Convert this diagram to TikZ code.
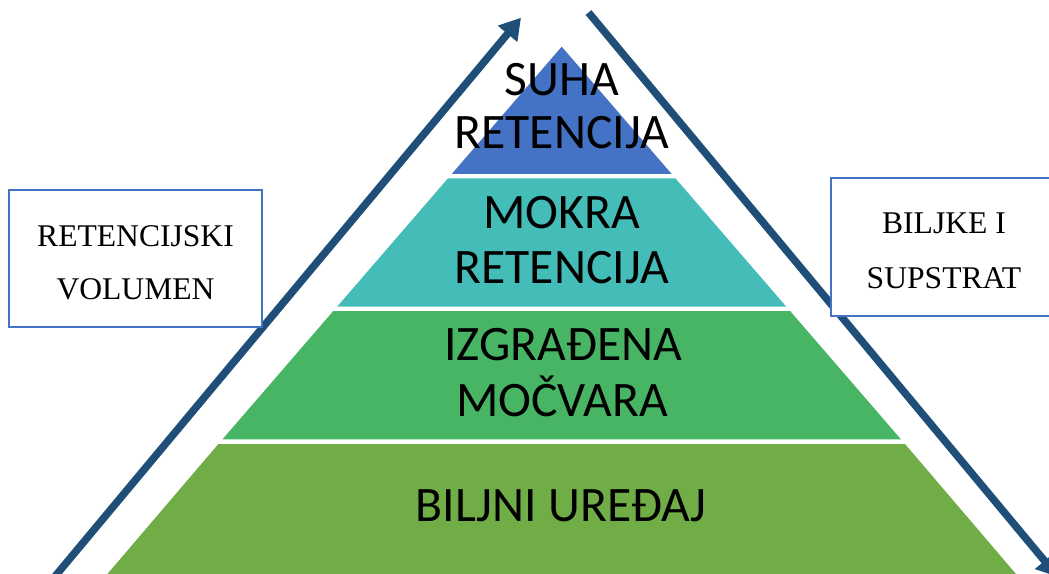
\documentclass[tikz,border=0pt]{standalone}
\usepackage{fontspec}
\setmainfont{Liberation Serif}
\newfontfamily\pyrfont{Carlito}
\usetikzlibrary{arrows.meta}
\definecolor{arrowblue}{HTML}{1F4E79}
\definecolor{boxblue}{HTML}{4472C4}
\definecolor{layerA}{HTML}{4472C4}
\definecolor{layerB}{HTML}{44BDB9}
\definecolor{layerC}{HTML}{47B564}
\definecolor{layerD}{HTML}{70AD47}
\begin{document}
\begin{tikzpicture}[x=1pt,y=-1pt,
  layertext/.style={font=\pyrfont\fontsize{49.6}{55}\selectfont, anchor=base, inner sep=0pt, text=black},
  boxtext/.style={font=\fontsize{31.6}{36}\selectfont, anchor=base, inner sep=0pt, text=black},
  labelbox/.style={draw=boxblue, line width=2pt, fill=white, outer sep=0pt, inner sep=0pt, anchor=north west},
  flow/.style={draw=arrowblue, line width=7.5pt, line cap=butt, -{Triangle[length=21pt,width=24pt]}}]
\useasboundingbox (0,0) rectangle (1049,573);
\clip (0,0) rectangle (1049,573);
\fill[white] (0,0) rectangle (1049,573);

% pyramid layers
\fill[layerA] (561.7,46.7) -- (671.5,173.8) -- (451.9,173.8) -- cycle;
\fill[layerB] (448.0,178.3) -- (675.4,178.3) -- (786.3,306.7) -- (337.1,306.7) -- cycle;
\fill[layerC] (333.3,311.0) -- (790.1,311.0) -- (900.9,439.3) -- (222.5,439.3) -- cycle;
\fill[layerD] (218.4,444.0) -- (905.0,444.0) -- (1016.0,574) -- (107.4,574) -- cycle;

% arrows
\coordinate (Ls) at (49.5,583);
\coordinate (Lt) at (521,17.7);
\coordinate (Rs) at (588.5,12.5);
\coordinate (Rt) at (1058,577);
\draw[flow] (Ls) -- (Lt);
\draw[flow] (Rs) -- (Rt);

% side boxes
\node[labelbox, minimum width=252.4pt, minimum height=137.3pt] (lbox) at (9.3,190) {};
\node[labelbox, minimum width=231pt, minimum height=137.4pt] (rbox) at (831,178.3) {};

\node[boxtext] (l1) at (135.5,246.7) {RETENCIJSKI};
\node[boxtext] (l2) at (135.5,299.3) {VOLUMEN};
\node[boxtext] (r1) at (944,233.3) {BILJKE I};
\node[boxtext] (r2) at (944,288.3) {SUPSTRAT};

% layer texts
\node[layertext] (a1) at (561.7,95) {SUHA};
\node[layertext] (a2) at (561.7,148.3) {RETENCIJA};
\node[layertext] (b1) at (561.7,228.3) {MOKRA};
\node[layertext] (b2) at (561.7,283.3) {RETENCIJA};
\node[layertext] (c1) at (563,360) {IZGRAĐENA};
\node[layertext] (c2) at (562,416.7) {MOČVARA};
\node[layertext] (d1) at (561.2,521) {BILJNI UREĐAJ};
\end{tikzpicture}
\end{document}
